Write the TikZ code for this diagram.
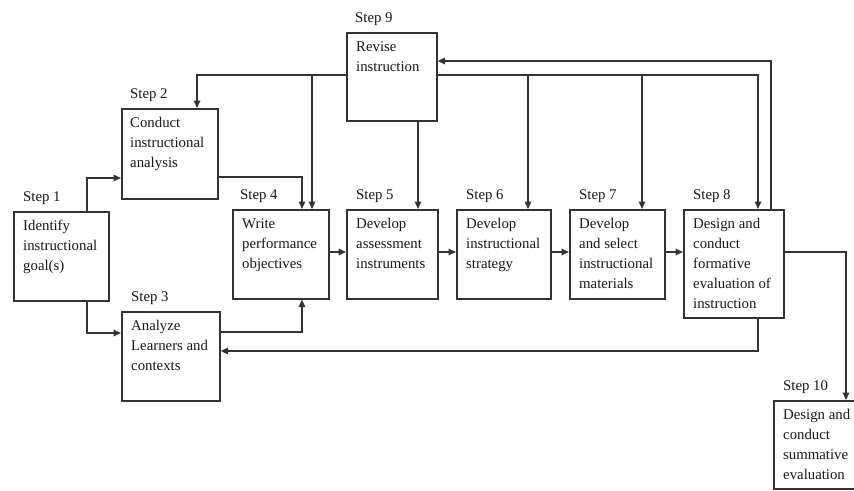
\documentclass[tikz,border=0pt]{standalone}
\usepackage{fontspec}
\setmainfont{Liberation Serif}
\usetikzlibrary{arrows.meta}
\begin{document}
\begin{tikzpicture}[x=1pt,y=-1pt,
  every node/.style={font=\fontsize{14.8}{20}\selectfont, text=black!90},
  boxshape/.style={draw=black!80, line width=1.6pt, rectangle, inner sep=0pt, anchor=north west},
  boxtext/.style={anchor=north west, inner sep=0pt, align=left},
  steplabel/.style={anchor=base west, inner sep=0pt},
  conn/.style={draw=black!80, line width=1.6pt},
  arr/.style={conn, -{Triangle[length=7.5pt,width=6.5pt]}}]
\useasboundingbox (0,0) rectangle (854,490);
\fill[white] (0,0) rectangle (854,490);

% boxes
\node[boxshape, minimum width=95, minimum height=89] (b1) at (13,211) {};
\node[boxshape, minimum width=96, minimum height=90] (b2) at (121,108) {};
\node[boxshape, minimum width=98, minimum height=89] (b3) at (121,311) {};
\node[boxshape, minimum width=96, minimum height=89] (b4) at (232,209) {};
\node[boxshape, minimum width=91, minimum height=89] (b5) at (346,209) {};
\node[boxshape, minimum width=94, minimum height=89] (b6) at (456,209) {};
\node[boxshape, minimum width=95, minimum height=89] (b7) at (569,209) {};
\node[boxshape, minimum width=100, minimum height=108] (b8) at (683,209) {};
\node[boxshape, minimum width=90, minimum height=88] (b9) at (346,32) {};
\node[boxshape, minimum width=100, minimum height=88] (b10) at (773,400) {};

% step labels
\node[steplabel] (l1) at ([shift={(10,-10)}]b1.north west) {Step 1};
\node[steplabel] (l2) at ([shift={(9,-10)}]b2.north west) {Step 2};
\node[steplabel] (l3) at ([shift={(10,-10)}]b3.north west) {Step 3};
\node[steplabel] (l4) at ([shift={(8,-10)}]b4.north west) {Step 4};
\node[steplabel] (l5) at ([shift={(10,-10)}]b5.north west) {Step 5};
\node[steplabel] (l6) at ([shift={(10,-10)}]b6.north west) {Step 6};
\node[steplabel] (l7) at ([shift={(10,-10)}]b7.north west) {Step 7};
\node[steplabel] (l8) at ([shift={(10,-10)}]b8.north west) {Step 8};
\node[steplabel] (l9) at ([shift={(9,-10)}]b9.north west) {Step 9};
\node[steplabel] (l10) at ([shift={(10,-10)}]b10.north west) {Step 10};

% box texts
\node[boxtext] (t1) at ([shift={(10,9)}]b1.north west) {Identify\\instructional\\goal(s)};
\node[boxtext] (t2) at ([shift={(9,9)}]b2.north west) {Conduct\\instructional\\analysis};
\node[boxtext] (t3) at ([shift={(10,9)}]b3.north west) {Analyze\\Learners and\\contexts};
\node[boxtext] (t4) at ([shift={(10,9)}]b4.north west) {Write\\performance\\objectives};
\node[boxtext] (t5) at ([shift={(10,9)}]b5.north west) {Develop\\assessment\\instruments};
\node[boxtext] (t6) at ([shift={(10,9)}]b6.north west) {Develop\\instructional\\strategy};
\node[boxtext] (t7) at ([shift={(10,9)}]b7.north west) {Develop\\and select\\instructional\\materials};
\node[boxtext] (t8) at ([shift={(10,9)}]b8.north west) {Design and\\conduct\\formative\\evaluation of\\instruction};
\node[boxtext] (t9) at ([shift={(10,9)}]b9.north west) {Revise\\instruction};
\node[boxtext] (t10) at ([shift={(10,9)}]b10.north west) {Design and\\conduct\\summative\\evaluation};

% connectors
\draw[arr] (b1.north -| 87,0) |- (b2.west |- 0,178);
\draw[arr] (b1.south -| 87,0) |- (b3.west |- 0,333);
\draw[arr] (b2.east |- 0,177) -| (b4.north -| 302,0);
\draw[arr] (b3.east |- 0,332) -| (b4.south -| 302,0);
\draw[arr] (b4.east |- 0,252) -- (b5.west |- 0,252);
\draw[arr] (b5.east |- 0,252) -- (b6.west |- 0,252);
\draw[arr] (b6.east |- 0,252) -- (b7.west |- 0,252);
\draw[arr] (b7.east |- 0,252) -- (b8.west |- 0,252);
\draw[arr] (b8.east |- 0,252) -| (b10.north -| 846,0);
\draw[arr] (b8.south -| 758,0) |- (b3.east |- 0,351);
\draw[arr] (b8.north -| 771,0) |- (b9.east |- 0,61);

% revise distribution
\coordinate (j4) at (312,75);
\coordinate (j6) at (528,75);
\coordinate (j7) at (642,75);
\draw[arr] (b9.west |- 0,75) -| (b2.north -| 197,0);
\draw[arr] (b9.east |- 0,75) -| (b8.north -| 758,0);
\draw[arr] (j4) -- (b4.north -| j4);
\draw[arr] (j6) -- (b6.north -| j6);
\draw[arr] (j7) -- (b7.north -| j7);
\draw[arr] (b9.south -| 418,0) -- (b5.north -| 418,0);
\end{tikzpicture}
\end{document}
